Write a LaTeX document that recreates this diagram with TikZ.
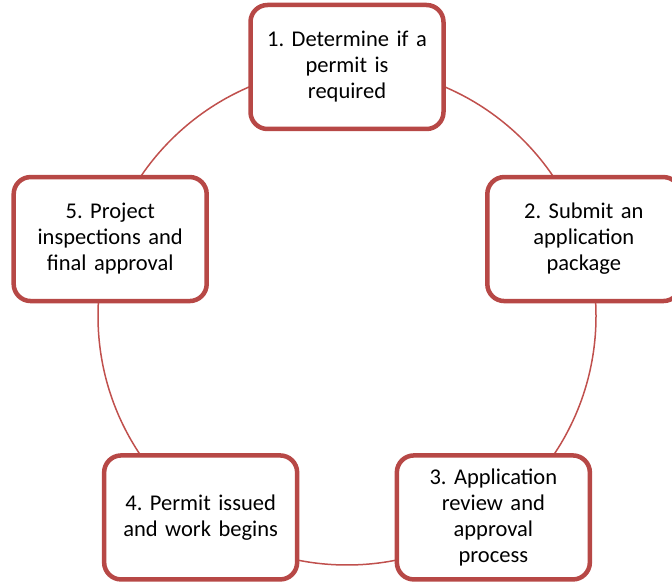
\documentclass[tikz,border=0pt]{standalone}
\usepackage{fontspec}
\setmainfont{Carlito}
\frenchspacing
\definecolor{ringred}{RGB}{192,80,77}
\definecolor{boxred}{RGB}{183,72,70}

\begin{document}
\begin{tikzpicture}[x=1pt,y=1pt,
	stagebox/.style={draw=boxred, line width=4.5pt, rounded corners=17pt, fill=white,
		minimum width=193pt, minimum height=124pt, text width=185pt, align=center,
		inner sep=0pt, font=\fontsize{22.5}{26}\selectfont}]
	\useasboundingbox (0,0) rectangle (672,581);
	\coordinate (c) at (347,265);
	\draw[ringred, line width=1.5pt] (c) circle (249pt);
	\foreach \i/\txt in {1/{1. Determine if a\\permit is\\required},
		2/{2. Submit an\\application\\package},
		3/{3. Application\\review and\\approval\\process},
		4/{4. Permit issued\\and work begins},
		5/{5. Project\\inspections and\\final approval}} {
		\pgfmathsetmacro{\a}{90-72*(\i-1)};
		\node[stagebox] (stage\i) at ([shift={(\a:249)}]c) {\txt};
	}
\end{tikzpicture}
\end{document}
